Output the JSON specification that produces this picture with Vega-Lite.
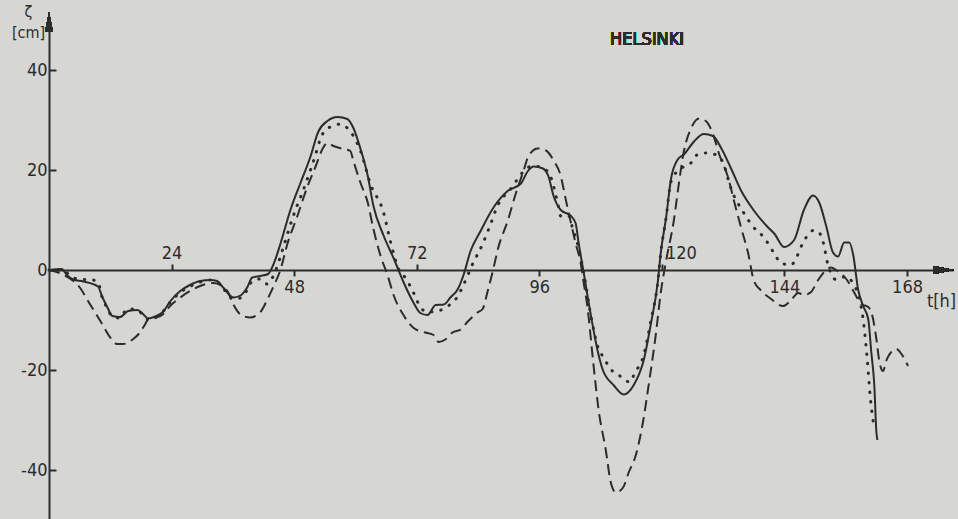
{
  "$schema": "https://vega.github.io/schema/vega-lite/v6.json",
  "width": 904,
  "height": 500,
  "autosize": {"type": "none"},
  "padding": {"left": 49, "top": 20, "right": 5, "bottom": 0},
  "background": "#d6d6d3",
  "config": {
    "view": {"stroke": null},
    "font": "DejaVu Sans Condensed, Liberation Sans Narrow, DejaVu Sans",
    "axis": {"labelFont": "DejaVu Sans Condensed, Liberation Sans Narrow, DejaVu Sans", "titleFont": "DejaVu Sans Condensed, Liberation Sans Narrow, DejaVu Sans"}
  },
  "data": {"values": [
    {"series": "observed", "t": 0, "v": 0}, {"series": "observed", "t": 2.5, "v": 0.2}, {"series": "observed", "t": 3.5, "v": -1.0}, {"series": "observed", "t": 4.7, "v": -1.9}, {"series": "observed", "t": 6.7, "v": -2.3}, {"series": "observed", "t": 9.6, "v": -3.3}, {"series": "observed", "t": 10.4, "v": -5.3}, {"series": "observed", "t": 11.4, "v": -7.4}, {"series": "observed", "t": 12.4, "v": -9.2}, {"series": "observed", "t": 13.9, "v": -9.4}, {"series": "observed", "t": 15.5, "v": -8.2}, {"series": "observed", "t": 17.3, "v": -8.0}, {"series": "observed", "t": 18.4, "v": -8.8}, {"series": "observed", "t": 19.4, "v": -9.7}, {"series": "observed", "t": 20.8, "v": -9.3}, {"series": "observed", "t": 22.4, "v": -8.3}, {"series": "observed", "t": 23.7, "v": -6.3}, {"series": "observed", "t": 25.7, "v": -4.2}, {"series": "observed", "t": 27.6, "v": -3.0}, {"series": "observed", "t": 29.6, "v": -2.2}, {"series": "observed", "t": 31.6, "v": -2.0}, {"series": "observed", "t": 32.9, "v": -2.2}, {"series": "observed", "t": 34.1, "v": -3.5}, {"series": "observed", "t": 36.1, "v": -5.5}, {"series": "observed", "t": 37.5, "v": -5.1}, {"series": "observed", "t": 38.8, "v": -3.5}, {"series": "observed", "t": 39.8, "v": -1.5}, {"series": "observed", "t": 41.4, "v": -1.2}, {"series": "observed", "t": 42.9, "v": -0.8}, {"series": "observed", "t": 43.9, "v": 1.0}, {"series": "observed", "t": 45.3, "v": 5.2}, {"series": "observed", "t": 47.3, "v": 12.1}, {"series": "observed", "t": 49.2, "v": 17.3}, {"series": "observed", "t": 51.2, "v": 22.7}, {"series": "observed", "t": 52.7, "v": 27.6}, {"series": "observed", "t": 54.5, "v": 29.8}, {"series": "observed", "t": 56.5, "v": 30.6}, {"series": "observed", "t": 58.4, "v": 30.2}, {"series": "observed", "t": 59.6, "v": 28.4}, {"series": "observed", "t": 61.0, "v": 24.2}, {"series": "observed", "t": 62.4, "v": 18.9}, {"series": "observed", "t": 63.5, "v": 12.9}, {"series": "observed", "t": 65.5, "v": 6.9}, {"series": "observed", "t": 67.5, "v": 2.3}, {"series": "observed", "t": 69.4, "v": -2.4}, {"series": "observed", "t": 71.4, "v": -6.6}, {"series": "observed", "t": 72.7, "v": -8.6}, {"series": "observed", "t": 74.1, "v": -9.0}, {"series": "observed", "t": 75.7, "v": -7.0}, {"series": "observed", "t": 77.3, "v": -6.9}, {"series": "observed", "t": 78.6, "v": -5.5}, {"series": "observed", "t": 80.0, "v": -3.9}, {"series": "observed", "t": 81.2, "v": -0.9}, {"series": "observed", "t": 82.5, "v": 3.7}, {"series": "observed", "t": 84.5, "v": 7.8}, {"series": "observed", "t": 87.1, "v": 12.6}, {"series": "observed", "t": 89.8, "v": 15.8}, {"series": "observed", "t": 92.4, "v": 17.3}, {"series": "observed", "t": 93.7, "v": 19.7}, {"series": "observed", "t": 94.9, "v": 20.7}, {"series": "observed", "t": 96.7, "v": 20.3}, {"series": "observed", "t": 97.8, "v": 18.7}, {"series": "observed", "t": 98.8, "v": 14.8}, {"series": "observed", "t": 100.2, "v": 12.0}, {"series": "observed", "t": 102.2, "v": 10.8}, {"series": "observed", "t": 103.1, "v": 9.4}, {"series": "observed", "t": 103.7, "v": 5.4}, {"series": "observed", "t": 104.7, "v": -0.6}, {"series": "observed", "t": 106.1, "v": -9.1}, {"series": "observed", "t": 107.5, "v": -16.5}, {"series": "observed", "t": 108.4, "v": -19.9}, {"series": "observed", "t": 110.6, "v": -23.1}, {"series": "observed", "t": 112.5, "v": -24.9}, {"series": "observed", "t": 114.5, "v": -23.0}, {"series": "observed", "t": 116.5, "v": -17.8}, {"series": "observed", "t": 117.8, "v": -11.0}, {"series": "observed", "t": 119.2, "v": -2.4}, {"series": "observed", "t": 119.8, "v": 3.6}, {"series": "observed", "t": 120.8, "v": 10.3}, {"series": "observed", "t": 121.8, "v": 18.3}, {"series": "observed", "t": 123.1, "v": 22.1}, {"series": "observed", "t": 124.3, "v": 23.1}, {"series": "observed", "t": 126.3, "v": 25.7}, {"series": "observed", "t": 128.2, "v": 27.2}, {"series": "observed", "t": 130.0, "v": 26.8}, {"series": "observed", "t": 131.6, "v": 24.4}, {"series": "observed", "t": 133.5, "v": 20.4}, {"series": "observed", "t": 135.5, "v": 15.9}, {"series": "observed", "t": 138.0, "v": 11.9}, {"series": "observed", "t": 140.8, "v": 8.5}, {"series": "observed", "t": 142.0, "v": 7.3}, {"series": "observed", "t": 143.9, "v": 4.6}, {"series": "observed", "t": 145.9, "v": 6.0}, {"series": "observed", "t": 147.8, "v": 12.0}, {"series": "observed", "t": 149.6, "v": 14.9}, {"series": "observed", "t": 150.8, "v": 13.5}, {"series": "observed", "t": 152.2, "v": 8.7}, {"series": "observed", "t": 153.5, "v": 3.5}, {"series": "observed", "t": 154.5, "v": 2.7}, {"series": "observed", "t": 155.7, "v": 5.5}, {"series": "observed", "t": 156.7, "v": 5.5}, {"series": "observed", "t": 157.5, "v": 2.8}, {"series": "observed", "t": 158.4, "v": -3.8}, {"series": "observed", "t": 159.4, "v": -7.2}, {"series": "observed", "t": 160.4, "v": -9.8}, {"series": "observed", "t": 161.0, "v": -16.4}, {"series": "observed", "t": 161.6, "v": -23.2}, {"series": "observed", "t": 162.0, "v": -32.4}, {"series": "observed", "t": 162.2, "v": -34.0},

    {"series": "model 1", "t": 0, "v": 0}, {"series": "model 1", "t": 2.5, "v": 0}, {"series": "model 1", "t": 4.7, "v": -1.5}, {"series": "model 1", "t": 6.1, "v": -1.9}, {"series": "model 1", "t": 8.0, "v": -1.9}, {"series": "model 1", "t": 9.6, "v": -2.5}, {"series": "model 1", "t": 10.4, "v": -5.5}, {"series": "model 1", "t": 11.4, "v": -7.6}, {"series": "model 1", "t": 12.4, "v": -9.3}, {"series": "model 1", "t": 13.9, "v": -9.6}, {"series": "model 1", "t": 15.3, "v": -7.8}, {"series": "model 1", "t": 16.5, "v": -7.8}, {"series": "model 1", "t": 17.8, "v": -8.4}, {"series": "model 1", "t": 19.2, "v": -9.8}, {"series": "model 1", "t": 20.8, "v": -9.5}, {"series": "model 1", "t": 22.4, "v": -8.2}, {"series": "model 1", "t": 23.7, "v": -6.5}, {"series": "model 1", "t": 25.7, "v": -4.5}, {"series": "model 1", "t": 27.6, "v": -3.3}, {"series": "model 1", "t": 29.6, "v": -2.4}, {"series": "model 1", "t": 31.6, "v": -2.0}, {"series": "model 1", "t": 32.9, "v": -2.4}, {"series": "model 1", "t": 34.1, "v": -3.7}, {"series": "model 1", "t": 36.1, "v": -5.8}, {"series": "model 1", "t": 37.5, "v": -5.6}, {"series": "model 1", "t": 38.8, "v": -4.0}, {"series": "model 1", "t": 39.8, "v": -2.2}, {"series": "model 1", "t": 41.4, "v": -1.8}, {"series": "model 1", "t": 42.7, "v": -2.8}, {"series": "model 1", "t": 44.3, "v": -0.3}, {"series": "model 1", "t": 45.9, "v": 4.6}, {"series": "model 1", "t": 47.8, "v": 10.7}, {"series": "model 1", "t": 50.2, "v": 17.1}, {"series": "model 1", "t": 52.2, "v": 23.1}, {"series": "model 1", "t": 53.1, "v": 26.1}, {"series": "model 1", "t": 54.1, "v": 28.0}, {"series": "model 1", "t": 55.7, "v": 28.8}, {"series": "model 1", "t": 57.1, "v": 29.2}, {"series": "model 1", "t": 58.4, "v": 28.4}, {"series": "model 1", "t": 59.6, "v": 26.8}, {"series": "model 1", "t": 61.0, "v": 23.8}, {"series": "model 1", "t": 62.9, "v": 17.3}, {"series": "model 1", "t": 65.5, "v": 11.5}, {"series": "model 1", "t": 66.9, "v": 5.5}, {"series": "model 1", "t": 68.4, "v": 0.3}, {"series": "model 1", "t": 69.8, "v": -1.6}, {"series": "model 1", "t": 71.4, "v": -4.6}, {"series": "model 1", "t": 72.7, "v": -7.4}, {"series": "model 1", "t": 74.1, "v": -8.4}, {"series": "model 1", "t": 76.1, "v": -8.2}, {"series": "model 1", "t": 78.0, "v": -7.3}, {"series": "model 1", "t": 80.0, "v": -5.3}, {"series": "model 1", "t": 81.2, "v": -2.9}, {"series": "model 1", "t": 82.9, "v": 1.1}, {"series": "model 1", "t": 84.9, "v": 5.2}, {"series": "model 1", "t": 86.1, "v": 8.2}, {"series": "model 1", "t": 88.0, "v": 13.2}, {"series": "model 1", "t": 90.4, "v": 16.2}, {"series": "model 1", "t": 92.9, "v": 19.7}, {"series": "model 1", "t": 94.3, "v": 20.7}, {"series": "model 1", "t": 95.7, "v": 20.7}, {"series": "model 1", "t": 96.9, "v": 20.3}, {"series": "model 1", "t": 98.2, "v": 18.7}, {"series": "model 1", "t": 99.6, "v": 13.4}, {"series": "model 1", "t": 100.2, "v": 10.8}, {"series": "model 1", "t": 101.8, "v": 10.8}, {"series": "model 1", "t": 102.5, "v": 8.4}, {"series": "model 1", "t": 103.7, "v": 4.4}, {"series": "model 1", "t": 104.7, "v": -0.6}, {"series": "model 1", "t": 106.1, "v": -9.1}, {"series": "model 1", "t": 107.5, "v": -15.5}, {"series": "model 1", "t": 108.6, "v": -17.5}, {"series": "model 1", "t": 110.0, "v": -19.9}, {"series": "model 1", "t": 111.4, "v": -20.8}, {"series": "model 1", "t": 112.5, "v": -21.9}, {"series": "model 1", "t": 113.9, "v": -22.4}, {"series": "model 1", "t": 114.5, "v": -21.0}, {"series": "model 1", "t": 116.5, "v": -16.8}, {"series": "model 1", "t": 117.8, "v": -10.4}, {"series": "model 1", "t": 119.2, "v": -2.4}, {"series": "model 1", "t": 119.8, "v": 3.6}, {"series": "model 1", "t": 120.8, "v": 10.3}, {"series": "model 1", "t": 121.8, "v": 17.7}, {"series": "model 1", "t": 123.7, "v": 20.3}, {"series": "model 1", "t": 125.3, "v": 21.0}, {"series": "model 1", "t": 127.3, "v": 23.3}, {"series": "model 1", "t": 129.0, "v": 23.4}, {"series": "model 1", "t": 131.0, "v": 22.8}, {"series": "model 1", "t": 132.0, "v": 21.4}, {"series": "model 1", "t": 133.5, "v": 16.4}, {"series": "model 1", "t": 136.1, "v": 11.3}, {"series": "model 1", "t": 138.0, "v": 8.5}, {"series": "model 1", "t": 140.0, "v": 6.5}, {"series": "model 1", "t": 142.0, "v": 3.3}, {"series": "model 1", "t": 143.3, "v": 1.4}, {"series": "model 1", "t": 145.3, "v": 1.0}, {"series": "model 1", "t": 146.3, "v": 2.4}, {"series": "model 1", "t": 147.6, "v": 5.4}, {"series": "model 1", "t": 148.6, "v": 7.0}, {"series": "model 1", "t": 149.6, "v": 7.9}, {"series": "model 1", "t": 150.6, "v": 7.7}, {"series": "model 1", "t": 151.6, "v": 5.5}, {"series": "model 1", "t": 152.5, "v": 1.1}, {"series": "model 1", "t": 154.1, "v": -1.9}, {"series": "model 1", "t": 156.1, "v": -1.3}, {"series": "model 1", "t": 157.5, "v": -2.8}, {"series": "model 1", "t": 158.4, "v": -4.8}, {"series": "model 1", "t": 159.4, "v": -9.8}, {"series": "model 1", "t": 160.2, "v": -17.8}, {"series": "model 1", "t": 160.8, "v": -25.4}, {"series": "model 1", "t": 161.6, "v": -31.8},

    {"series": "model 2", "t": 0, "v": 0}, {"series": "model 2", "t": 2.5, "v": -0.8}, {"series": "model 2", "t": 6.1, "v": -3.6}, {"series": "model 2", "t": 8.0, "v": -6.8}, {"series": "model 2", "t": 10.0, "v": -10.1}, {"series": "model 2", "t": 12.0, "v": -13.5}, {"series": "model 2", "t": 13.3, "v": -14.8}, {"series": "model 2", "t": 14.5, "v": -14.8}, {"series": "model 2", "t": 16.5, "v": -13.8}, {"series": "model 2", "t": 17.8, "v": -12.5}, {"series": "model 2", "t": 18.8, "v": -10.9}, {"series": "model 2", "t": 19.4, "v": -9.9}, {"series": "model 2", "t": 20.8, "v": -9.6}, {"series": "model 2", "t": 22.4, "v": -8.8}, {"series": "model 2", "t": 23.7, "v": -7.2}, {"series": "model 2", "t": 25.7, "v": -5.5}, {"series": "model 2", "t": 27.6, "v": -4.2}, {"series": "model 2", "t": 29.6, "v": -3.2}, {"series": "model 2", "t": 32.2, "v": -2.6}, {"series": "model 2", "t": 34.9, "v": -4.2}, {"series": "model 2", "t": 36.1, "v": -6.9}, {"series": "model 2", "t": 37.5, "v": -8.9}, {"series": "model 2", "t": 39.4, "v": -9.5}, {"series": "model 2", "t": 41.4, "v": -8.4}, {"series": "model 2", "t": 42.7, "v": -6.0}, {"series": "model 2", "t": 43.9, "v": -3.4}, {"series": "model 2", "t": 45.3, "v": 0.0}, {"series": "model 2", "t": 46.7, "v": 5.3}, {"series": "model 2", "t": 48.6, "v": 10.7}, {"series": "model 2", "t": 50.6, "v": 16.7}, {"series": "model 2", "t": 52.2, "v": 20.7}, {"series": "model 2", "t": 53.5, "v": 24.1}, {"series": "model 2", "t": 54.5, "v": 25.4}, {"series": "model 2", "t": 55.7, "v": 24.8}, {"series": "model 2", "t": 57.6, "v": 24.2}, {"series": "model 2", "t": 59.0, "v": 23.8}, {"series": "model 2", "t": 59.6, "v": 21.8}, {"series": "model 2", "t": 61.0, "v": 17.4}, {"series": "model 2", "t": 62.4, "v": 13.5}, {"series": "model 2", "t": 63.5, "v": 8.3}, {"series": "model 2", "t": 64.9, "v": 2.9}, {"series": "model 2", "t": 66.3, "v": -1.1}, {"series": "model 2", "t": 67.5, "v": -5.1}, {"series": "model 2", "t": 69.4, "v": -9.0}, {"series": "model 2", "t": 71.4, "v": -11.6}, {"series": "model 2", "t": 73.3, "v": -12.4}, {"series": "model 2", "t": 75.3, "v": -13.0}, {"series": "model 2", "t": 76.3, "v": -14.4}, {"series": "model 2", "t": 77.6, "v": -13.9}, {"series": "model 2", "t": 79.0, "v": -12.5}, {"series": "model 2", "t": 80.6, "v": -11.9}, {"series": "model 2", "t": 82.0, "v": -10.3}, {"series": "model 2", "t": 83.9, "v": -8.5}, {"series": "model 2", "t": 84.9, "v": -7.8}, {"series": "model 2", "t": 85.9, "v": -4.2}, {"series": "model 2", "t": 86.9, "v": -0.2}, {"series": "model 2", "t": 88.0, "v": 4.6}, {"series": "model 2", "t": 89.8, "v": 9.8}, {"series": "model 2", "t": 91.4, "v": 15.3}, {"series": "model 2", "t": 92.9, "v": 19.8}, {"series": "model 2", "t": 93.9, "v": 22.8}, {"series": "model 2", "t": 95.7, "v": 24.3}, {"series": "model 2", "t": 97.3, "v": 23.9}, {"series": "model 2", "t": 98.8, "v": 21.9}, {"series": "model 2", "t": 100.2, "v": 18.8}, {"series": "model 2", "t": 101.2, "v": 14.0}, {"series": "model 2", "t": 102.2, "v": 9.4}, {"series": "model 2", "t": 103.1, "v": 5.4}, {"series": "model 2", "t": 104.1, "v": 1.4}, {"series": "model 2", "t": 104.7, "v": -2.6}, {"series": "model 2", "t": 105.5, "v": -8.0}, {"series": "model 2", "t": 106.5, "v": -17.9}, {"series": "model 2", "t": 107.6, "v": -27.9}, {"series": "model 2", "t": 109.0, "v": -35.9}, {"series": "model 2", "t": 110.0, "v": -42.5}, {"series": "model 2", "t": 111.0, "v": -44.5}, {"series": "model 2", "t": 112.4, "v": -43.5}, {"series": "model 2", "t": 113.5, "v": -40.5}, {"series": "model 2", "t": 114.9, "v": -37.0}, {"series": "model 2", "t": 116.3, "v": -30.4}, {"series": "model 2", "t": 117.5, "v": -22.4}, {"series": "model 2", "t": 118.8, "v": -13.0}, {"series": "model 2", "t": 119.8, "v": -4.4}, {"series": "model 2", "t": 120.8, "v": 1.7}, {"series": "model 2", "t": 122.4, "v": 10.3}, {"series": "model 2", "t": 123.3, "v": 17.1}, {"series": "model 2", "t": 124.3, "v": 23.7}, {"series": "model 2", "t": 125.7, "v": 28.3}, {"series": "model 2", "t": 127.3, "v": 30.3}, {"series": "model 2", "t": 128.6, "v": 29.8}, {"series": "model 2", "t": 130.0, "v": 27.2}, {"series": "model 2", "t": 131.2, "v": 23.2}, {"series": "model 2", "t": 133.0, "v": 18.4}, {"series": "model 2", "t": 134.1, "v": 13.9}, {"series": "model 2", "t": 135.5, "v": 8.5}, {"series": "model 2", "t": 136.9, "v": 3.3}, {"series": "model 2", "t": 138.0, "v": -2.1}, {"series": "model 2", "t": 139.4, "v": -4.1}, {"series": "model 2", "t": 141.4, "v": -5.8}, {"series": "model 2", "t": 143.7, "v": -7.2}, {"series": "model 2", "t": 145.3, "v": -6.0}, {"series": "model 2", "t": 146.7, "v": -4.6}, {"series": "model 2", "t": 147.8, "v": -5.0}, {"series": "model 2", "t": 149.2, "v": -4.4}, {"series": "model 2", "t": 150.6, "v": -2.0}, {"series": "model 2", "t": 151.8, "v": -0.4}, {"series": "model 2", "t": 153.1, "v": 0.5}, {"series": "model 2", "t": 154.5, "v": -0.3}, {"series": "model 2", "t": 156.1, "v": -1.8}, {"series": "model 2", "t": 157.6, "v": -4.4}, {"series": "model 2", "t": 159.0, "v": -6.8}, {"series": "model 2", "t": 160.4, "v": -7.4}, {"series": "model 2", "t": 161.0, "v": -8.4}, {"series": "model 2", "t": 162.0, "v": -13.8}, {"series": "model 2", "t": 162.5, "v": -17.8}, {"series": "model 2", "t": 163.3, "v": -20.2}, {"series": "model 2", "t": 163.9, "v": -18.2}, {"series": "model 2", "t": 164.9, "v": -16.4}, {"series": "model 2", "t": 165.9, "v": -15.8}, {"series": "model 2", "t": 166.9, "v": -16.8}, {"series": "model 2", "t": 168.2, "v": -19.2}
  ]},
  "encoding": {
    "x": {
      "field": "t", "type": "quantitative",
      "scale": {"domain": [0, 177], "nice": false, "zero": false},
      "axis": {
        "orient": "bottom",
        "offset": -250,
        "values": [24, 48, 72, 96, 120, 144, 168],
        "grid": false,
        "domainColor": "#2c2c2c", "domainWidth": 2,
        "tickColor": "#2c2c2c", "tickWidth": 2,
        "tickSize": {"condition": {"test": "datum.value == 24 || datum.value == 72 || datum.value == 120", "value": -6}, "value": 6},
        "labelPadding": {"condition": {"test": "datum.value == 24 || datum.value == 72 || datum.value == 120", "value": -2}, "value": 2},
        "labelBaseline": {"condition": {"test": "datum.value == 24 || datum.value == 72 || datum.value == 120", "value": "bottom"}, "value": "top"},
        "labelOffset": {"condition": {"test": "datum.value == 120", "value": 19}, "value": 0},
        "labelFontSize": 18, "labelColor": "#2c2c2c",
        "title": "t[h]", "titleX": 892, "titleY": 31, "titleAlign": "center", "titleBaseline": "middle",
        "titleFontSize": 18, "titleFontWeight": "normal", "titleColor": "#2c2c2c"
      }
    },
    "y": {
      "field": "v", "type": "quantitative",
      "scale": {"domain": [-50, 50], "nice": false, "zero": false},
      "axis": {
        "values": [-40, -20, 0, 20, 40],
        "grid": false,
        "domainColor": "#2c2c2c", "domainWidth": 2,
        "tickColor": "#2c2c2c", "tickWidth": 2, "tickSize": -7,
        "labelPadding": 9, "labelFontSize": 18, "labelColor": "#2c2c2c",
        "labelExpr": "datum.value < 0 ? '-' + abs(datum.value) : '' + datum.value",
        "title": ["ζ", "[cm]"], "titleAngle": 0, "titleX": -21, "titleY": -17,
        "titleAlign": "center", "titleBaseline": "top", "titleFontSize": 16, "titleFontWeight": "normal",
        "titleLineHeight": 21, "titleColor": "#2c2c2c"
      }
    }
  },
  "layer": [
    {
      "transform": [{"filter": "datum.series == 'observed'"}],
      "mark": {"type": "line", "color": "#2c2c2c", "strokeWidth": 2, "interpolate": "monotone"}
    },
    {
      "transform": [{"filter": "datum.series == 'model 1'"}],
      "mark": {"type": "line", "color": "#2c2c2c", "strokeWidth": 3, "strokeDash": [0.5, 9], "strokeCap": "round", "interpolate": "monotone"}
    },
    {
      "transform": [{"filter": "datum.series == 'model 2'"}],
      "mark": {"type": "line", "color": "#2c2c2c", "strokeWidth": 2, "strokeDash": [11, 6], "interpolate": "monotone"}
    },
    {
      "mark": {"type": "point", "shape": "M-0.4,1L0,-1L0.4,1Z", "size": 400, "filled": true, "color": "#2c2c2c", "opacity": 1},
      "encoding": {"x": {"datum": 0, "type": "quantitative"}, "y": {"datum": 49.6, "type": "quantitative"}}
    },
    {
      "mark": {"type": "point", "shape": "M-1,-0.4L1,0L-1,0.4Z", "size": 400, "filled": true, "color": "#2c2c2c", "opacity": 1},
      "encoding": {"x": {"datum": 175.1, "type": "quantitative"}, "y": {"datum": 0, "type": "quantitative"}}
    },
    {
      "mark": {"type": "text", "text": "HELSINKI", "fontSize": 18, "color": "#2c2c2c", "align": "center", "baseline": "middle"},
      "encoding": {"x": {"datum": 117.1, "type": "quantitative"}, "y": {"datum": 46, "type": "quantitative"}}
    }
  ]
}
